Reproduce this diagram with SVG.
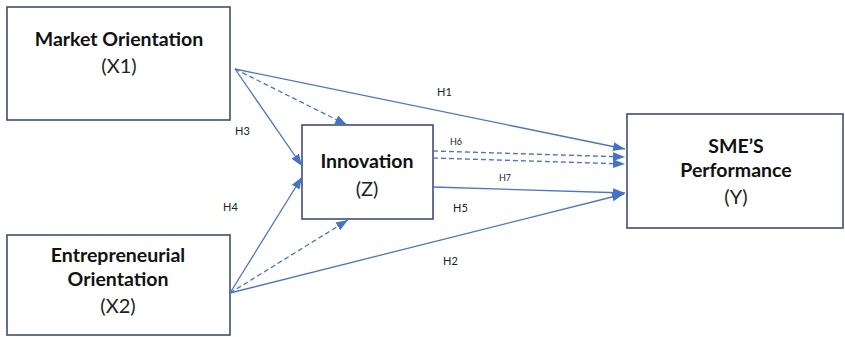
<svg xmlns="http://www.w3.org/2000/svg" width="845" height="337" viewBox="0 0 845 337">
<style>
.box{fill:#fff;stroke:#3f4f73;stroke-width:1.6}
.t{font-family:Lato,"Open Sans","Liberation Sans",sans-serif;font-weight:bold;font-size:19.5px;fill:#111;text-anchor:middle}
.v{font-family:Lato,"Open Sans","Liberation Sans",sans-serif;font-size:20px;fill:#222;text-anchor:middle}
.h{font-family:Lato,"Open Sans","Liberation Sans",sans-serif;font-size:11px;fill:#222}
.hs{font-family:Lato,"Open Sans","Liberation Sans",sans-serif;font-size:9px;fill:#222}
.a{fill:none;stroke:#4a76c6;stroke-width:1.3;marker-end:url(#ah)}
.d{stroke-dasharray:5 3}
</style>
<defs>
<marker id="ah" markerUnits="userSpaceOnUse" markerWidth="13" markerHeight="10" refX="12" refY="4.5" orient="auto">
<path d="M0,0 L12,4.5 L0,9 z" fill="#4472c4"/>
</marker>
</defs>
<g id="node-market">
<rect class="box" x="7" y="7" width="223" height="113"/>
<text class="t" x="119" y="46">Market Orientation</text>
<text class="v" x="119" y="73">(X1)</text>
</g>
<g id="node-entre">
<rect class="box" x="7" y="235" width="223" height="100"/>
<text class="t" x="118" y="262">Entrepreneurial</text>
<text class="t" x="118" y="286">Orientation</text>
<text class="v" x="118" y="313">(X2)</text>
</g>
<g id="node-innovation">
<rect class="box" x="302" y="125" width="131" height="94"/>
<text class="t" x="367" y="168">Innovation</text>
<text class="v" x="367" y="196">(Z)</text>
</g>
<g id="node-sme">
<rect class="box" x="627" y="114" width="216" height="114"/>
<text class="t" x="736" y="153">SME’S</text>
<text class="t" x="736" y="177">Performance</text>
<text class="v" x="736" y="204">(Y)</text>
</g>
<g id="connectors">
<path class="a" d="M235,69 L625,149"/>
<path class="a d" d="M235,69 L347,125"/>
<path class="a" d="M235,69 L302,166"/>
<path class="a" d="M230,293 L302,177"/>
<path class="a d" d="M230,293 L348,220"/>
<path class="a" d="M230,293 L624,194"/>
<path class="a d" d="M433,151 L625,157"/>
<path class="a d" d="M433,158 L625,164"/>
<path class="a" d="M433,187 L625,193"/>
</g>
<g id="labels">
<text class="h" x="437" y="96">H1</text>
<text class="h" x="235" y="135">H3</text>
<text class="hs" x="450" y="145">H6</text>
<text class="hs" x="499" y="181">H7</text>
<text class="h" x="453" y="212">H5</text>
<text class="h" x="443" y="265">H2</text>
<text class="h" x="223" y="211">H4</text>
</g>
</svg>
